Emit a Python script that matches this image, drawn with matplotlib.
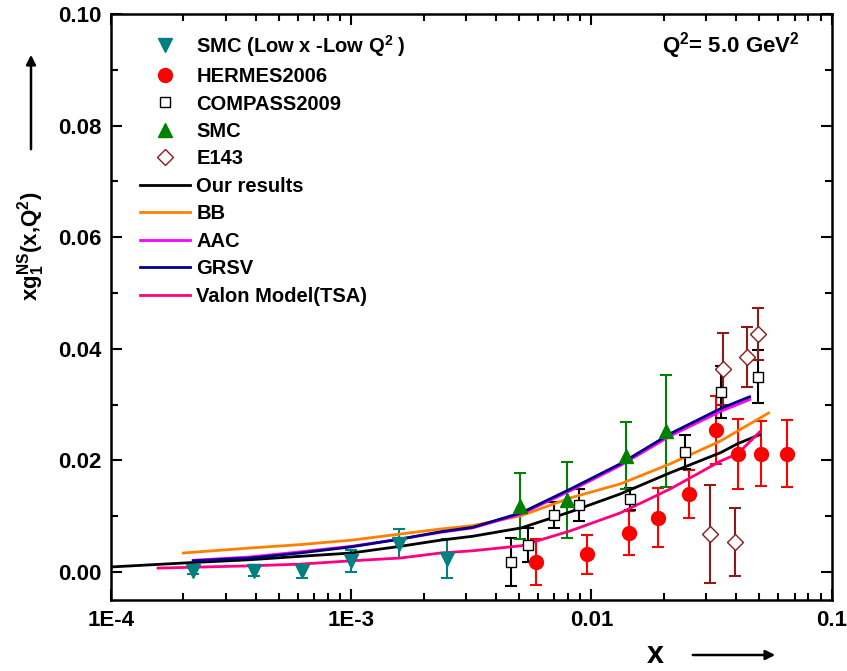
import numpy as np
import matplotlib
matplotlib.use("Agg")
import matplotlib.pyplot as plt

plt.rcParams['font.family'] = ['Liberation Sans', 'DejaVu Sans']
plt.rcParams['mathtext.fontset'] = 'custom'
plt.rcParams['mathtext.rm'] = 'Liberation Sans'
plt.rcParams['mathtext.bf'] = 'Liberation Sans:bold'
plt.rcParams['mathtext.it'] = 'Liberation Sans:italic'

# SMC (low x - low Q^2)
smc_low_x = [2.2e-4, 3.95e-4, 6.25e-4, 1.0e-3, 1.58e-3, 2.51e-3]
smc_low_y = [0.0002, 0.0002, 0.0001, 0.0020, 0.0051, 0.0024]
smc_low_err = [0.0005, 0.0010, 0.0012, 0.0020, 0.0026, 0.0035]

# HERMES2006
hermes_x = [5.85e-3, 9.6e-3, 0.0143, 0.0190, 0.0254, 0.0331, 0.0406, 0.0506, 0.0649]
hermes_y = [0.0018, 0.0032, 0.0070, 0.0097, 0.0140, 0.0255, 0.0212, 0.0212, 0.0212]
hermes_err = [0.0041, 0.0035, 0.0040, 0.0053, 0.0043, 0.0061, 0.0063, 0.0058, 0.0060]

# COMPASS2009
compass_x = [4.64e-3, 5.46e-3, 7.0e-3, 8.9e-3, 0.0144, 0.0246, 0.0345, 0.0492]
compass_y = [0.0018, 0.0048, 0.0102, 0.0120, 0.0131, 0.0215, 0.0323, 0.0350]
compass_err = [0.0043, 0.0030, 0.0023, 0.0029, 0.0020, 0.0030, 0.0047, 0.0048]

# SMC
smc_x = [5.06e-3, 7.94e-3, 0.0139, 0.0205]
smc_y = [0.0119, 0.0129, 0.0208, 0.0253]
smc_err = [0.0059, 0.0068, 0.0060, 0.0100]

# E143
e143_x = [0.0310, 0.0351, 0.0394, 0.0442, 0.0492]
e143_y = [0.0068, 0.0364, 0.0054, 0.0386, 0.0427]
e143_err = [0.0088, 0.0065, 0.0061, 0.0054, 0.0047]

# model curves
ours_x = [1e-4, 2.2e-4, 3.8e-4, 6.1e-4, 1e-3, 1.6e-3, 2.35e-3, 3.2e-3, 5.1e-3, 8.2e-3, 0.0132, 0.0213, 0.0345, 0.0406, 0.0501]
ours_y = [0.0009, 0.0017, 0.0022, 0.0028, 0.0034, 0.0046, 0.0057, 0.0064, 0.0079, 0.0108, 0.0140, 0.0178, 0.0214, 0.0230, 0.0246]

bb_x = [2.0e-4, 3.8e-4, 6.1e-4, 1e-3, 1.6e-3, 2.35e-3, 3.2e-3, 5.1e-3, 8.2e-3, 0.0132, 0.0213, 0.0345, 0.0546]
bb_y = [0.0034, 0.0043, 0.0049, 0.0057, 0.0068, 0.0077, 0.0083, 0.0101, 0.0133, 0.0158, 0.0194, 0.0235, 0.0285]

grsv_x = [2.2e-4, 3.8e-4, 6.1e-4, 1e-3, 1.6e-3, 2.35e-3, 3.2e-3, 5.1e-3, 8.2e-3, 0.0132, 0.0213, 0.0345, 0.0455]
grsv_y = [0.0020, 0.0025, 0.0034, 0.0045, 0.0059, 0.0072, 0.0080, 0.0106, 0.0149, 0.0194, 0.0248, 0.0293, 0.0314]

aac_x = grsv_x
aac_y = [0.0021, 0.0027, 0.0036, 0.0046, 0.0059, 0.0071, 0.0079, 0.0104, 0.0146, 0.0191, 0.0244, 0.0288, 0.0309]

valon_x = [1.57e-4, 3.8e-4, 6.1e-4, 1e-3, 1.6e-3, 2.35e-3, 3.2e-3, 5.1e-3, 8.2e-3, 0.0132, 0.0213, 0.0345, 0.0406, 0.0501]
valon_y = [0.0007, 0.0011, 0.0014, 0.0020, 0.0025, 0.0034, 0.0038, 0.0047, 0.0074, 0.0106, 0.0149, 0.0199, 0.0212, 0.0251]

fig = plt.figure(figsize=(8.47, 6.71), dpi=100)
ax = fig.add_axes([0.131, 0.106, 0.851, 0.873])

cap = 4.5
# error bars
ax.errorbar(smc_low_x, smc_low_y, yerr=smc_low_err, fmt='none', ecolor='#008080', elinewidth=1.5, capsize=cap, capthick=1.5, zorder=2)
ax.errorbar(hermes_x, hermes_y, yerr=hermes_err, fmt='none', ecolor='#ff0000', elinewidth=1.5, capsize=cap, capthick=1.5, zorder=2)
ax.errorbar(compass_x, compass_y, yerr=compass_err, fmt='none', ecolor='black', elinewidth=1.5, capsize=cap, capthick=1.5, zorder=2)
ax.errorbar(smc_x, smc_y, yerr=smc_err, fmt='none', ecolor='#008000', elinewidth=1.5, capsize=cap, capthick=1.5, zorder=2)
ax.errorbar(e143_x, e143_y, yerr=e143_err, fmt='none', ecolor='#8b1a1a', elinewidth=1.5, capsize=cap, capthick=1.5, zorder=2)

# markers
ax.plot(smc_low_x, smc_low_y, 'v', color='#008080', ms=10, ls='none', zorder=4, label=r'SMC (Low x -Low $\mathregular{Q^2}$ )')
ax.plot(hermes_x, hermes_y, 'o', color='#ff0000', ms=10, ls='none', zorder=4, label='HERMES2006')
ax.plot(compass_x, compass_y, 's', mfc='white', mec='black', mew=1.0, ms=7, ls='none', zorder=4, label='COMPASS2009')
ax.plot(smc_x, smc_y, '^', color='#008000', ms=10, ls='none', zorder=4, label='SMC')
ax.plot(e143_x, e143_y, 'D', mfc='white', mec='#8b1a1a', mew=1.0, ms=8, ls='none', zorder=4, label='E143')

# curves
ax.plot(ours_x, ours_y, color='black', lw=2, zorder=3, label='Our results')
ax.plot(bb_x, bb_y, color='#ff8000', lw=2, zorder=3, label='BB')
ax.plot(aac_x, aac_y, color='#ff00ff', lw=2, zorder=3, label='AAC')
ax.plot(grsv_x, grsv_y, color='#000080', lw=2, zorder=3, label='GRSV')
ax.plot(valon_x, valon_y, color='#ff0080', lw=2, zorder=3, label='Valon Model(TSA)')

ax.set_xscale('log')
ax.set_xlim(1e-4, 0.1)
ax.set_ylim(-0.005, 0.10)
ax.set_xticks([1e-4, 1e-3, 1e-2, 1e-1])
ax.set_xticklabels(['1E-4', '1E-3', '0.01', '0.1'])
ax.set_yticks([0.0, 0.02, 0.04, 0.06, 0.08, 0.10])
ax.set_yticklabels(['0.00', '0.02', '0.04', '0.06', '0.08', '0.10'])
ax.set_yticks(np.arange(0.01, 0.10, 0.02), minor=True)
ax.tick_params(which='both', direction='in', top=True, right=True, width=1.5)
ax.tick_params(which='major', length=8, labelsize=16, pad=7)
ax.tick_params(which='minor', length=5)
for lab in ax.get_xticklabels() + ax.get_yticklabels():
    lab.set_fontweight('bold')
for sp in ax.spines.values():
    sp.set_linewidth(1.8)

ax.text(0.956, 0.947, r'Q$^{\mathbf{2}}$= 5.0 GeV$^{\mathbf{2}}$', transform=ax.transAxes,
        ha='right', va='center', fontsize=16, fontweight='bold')

ax.legend(loc='upper left', bbox_to_anchor=(0.029, 0.982), frameon=False,
          prop={'weight': 'bold', 'size': 14.5}, handlelength=2.5, handletextpad=0.3,
          labelspacing=0.42, borderaxespad=0)

# axis labels with arrows
fig.text(655 / 847, 1 - 655 / 671, 'x', ha='center', va='center', fontsize=22, fontweight='bold')
fig.patches.append(matplotlib.patches.FancyArrowPatch((690 / 847, 1 - 655 / 671), (778 / 847, 1 - 655 / 671),
                   transform=fig.transFigure, arrowstyle='-|>', mutation_scale=14, lw=1.8, color='black'))
fig.text(31 / 847, 1 - 246 / 671, r'xg$_{\mathbf{1}}^{\mathbf{NS}}$(x,Q$^{\mathbf{2}}$)', rotation=90,
         ha='center', va='center', fontsize=16, fontweight='bold')
fig.patches.append(matplotlib.patches.FancyArrowPatch((31 / 847, 1 - 152 / 671), (31 / 847, 1 - 52 / 671),
                   transform=fig.transFigure, arrowstyle='-|>', mutation_scale=14, lw=1.8, color='black'))

fig.savefig('out.png', dpi=100)
